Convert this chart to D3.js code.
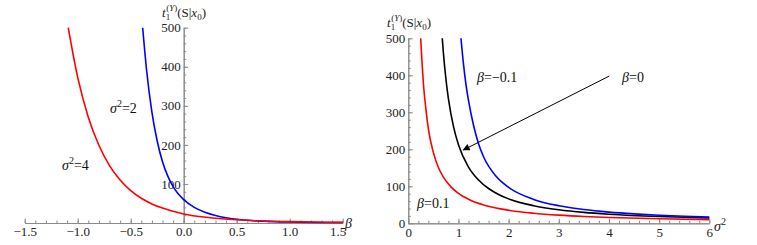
<!DOCTYPE html>
<html><head><meta charset="utf-8">
<script src="https://cdn.jsdelivr.net/npm/d3@7"></script>
<style>
body{margin:0;background:#fff;}
svg{display:block;}
svg text{font-family:"Liberation Serif","Times New Roman","DejaVu Serif",serif;}
.axis path,.axis line{stroke:#8a8a8a;stroke-width:1;}
.axis text{fill:#222;font-size:13px;}
</style></head>
<body><svg id="c" width="757" height="245"></svg>
<script>
// ---- Left panel: t1 vs beta ----
const leftBetaS2 = [-0.387,-0.35,-0.3,-0.25,-0.2,-0.15,-0.1,-0.05,0,0.1,0.2,0.3,0.4,0.5,0.75,1.0,1.5];
const leftValS2  = [500,391,284,210,157,120,93,74,60,40,27.4,19,13.3,9.6,4.7,2.6,1.2];
const leftBetaS4 = [-1.089,-1.0,-0.9,-0.8,-0.7,-0.6,-0.5,-0.4,-0.3,-0.2,-0.1,0,0.25,0.5,0.75,1.0,1.25,1.5];
const leftValS4  = [500,373,271,199,147,110,83,63.4,48.9,38.1,30,23,13.6,8.2,5.2,3.5,2.4,1.7];
const leftXTicks = [-1.5,-1.0,-0.5,0.0,0.5,1.0,1.5];
const leftYTicks = [100,200,300,400,500];

// ---- Right panel: t1 vs sigma^2 ----
const rightS2B01  = [0.247,0.3,0.35,0.4,0.5,0.6,0.7,0.85,1.0,1.25,1.5,2.0,2.5,3.0,3.5,4.0,5.0,6.0];
const rightValB01 = [500,380,310,255,191,151,125,98.5,80.8,61.8,49.7,35.3,27.2,22,18.3,15.7,12.1,9.8];
const rightS2B0   = [0.677,0.7,0.75,0.8,0.9,1.0,1.2,1.4,1.6,1.8,2.0,2.5,3.0,3.5,4.0,5.0,6.0];
const rightValB0  = [500,460,390,336,262,212,152,117,94,78,66,47.6,36.7,29.5,24.6,18.2,14.3];
const rightS2Bm01 = [1.05,1.1,1.15,1.2,1.3,1.4,1.5,1.75,2.0,2.5,3.0,3.5,4.0,4.5,5.0,5.5,6.0];
const rightValBm01= [500,430,375,332,265,215,180,127,97,64.6,47.5,37.2,30.3,25.4,21.7,18.9,16.7];
const rightXTicks = [0,1,2,3,4,5,6];
const rightYTicks = [0,100,200,300,400,500];

const FONT = '"Liberation Serif","Times New Roman","DejaVu Serif",serif';
const svg = d3.select("#c");
const zip = (a,b)=>a.map((v,i)=>[v,b[i]]);
const fmt1 = d => (d<0?"\u2212":"") + Math.abs(d).toFixed(1);

function styleAxis(g){
  g.attr("font-family",FONT).attr("font-size",13);
  g.selectAll("text").attr("font-family",FONT).attr("fill","#222");
}

function panel(xs, ys, xTicks, xMinorStep, yTicks, yMinorStep, xfmt, series){
  const [x0,x1] = xs.domain();
  const minorX = d3.range(Math.round(x0/xMinorStep), Math.round(x1/xMinorStep)+1).map(i=>+(i*xMinorStep).toFixed(6));
  const minorY = d3.range(0, Math.round(500/yMinorStep)+1).map(i=>i*yMinorStep);
  const ax0 = ys(0), ay0 = xs(0);
  svg.append("g").attr("class","axis").attr("transform",`translate(0,${ax0})`)
    .call(d3.axisBottom(xs).tickValues(minorX).tickSizeInner(-2.5).tickSizeOuter(0).tickFormat(""));
  const gx = svg.append("g").attr("class","axis").attr("transform",`translate(0,${ax0})`)
    .call(d3.axisBottom(xs).tickValues(xTicks).tickSizeInner(-4.5).tickSizeOuter(0).tickPadding(4).tickFormat(xfmt));
  styleAxis(gx);
  svg.append("g").attr("class","axis").attr("transform",`translate(${ay0},0)`)
    .call(d3.axisLeft(ys).tickValues(minorY).tickSizeInner(-2.5).tickSizeOuter(0).tickFormat(""));
  const gy = svg.append("g").attr("class","axis").attr("transform",`translate(${ay0},0)`)
    .call(d3.axisLeft(ys).tickValues(yTicks).tickSizeInner(-4.5).tickSizeOuter(0).tickPadding(3).tickFormat(d3.format("d")));
  styleAxis(gy);
  const line = d3.line().x(d=>xs(d[0])).y(d=>ys(d[1])).curve(d3.curveMonotoneX);
  series.forEach(s=>{
    svg.append("path").datum(s.pts).attr("d",line).attr("fill","none")
      .attr("stroke",s.color).attr("stroke-width",1.6);
  });
  return gx;
}

const xL = d3.scaleLinear([-1.5,1.5],[24.7,342.7]);
const yL = d3.scaleLinear([0,500],[223,27.7]);
const gxL = panel(xL,yL,leftXTicks,0.1,leftYTicks,20,fmt1,[
  {pts:zip(leftBetaS2,leftValS2),color:"#0000ff"},
  {pts:zip(leftBetaS4,leftValS4),color:"#ff0000"}
]);
gxL.selectAll(".tick text").filter(d=>d===1.5).attr("dx",-5);

const xR = d3.scaleLinear([0,6],[408.3,709.3]);
const yR = d3.scaleLinear([0,500],[223.3,38.3]);
panel(xR,yR,rightXTicks,0.2,rightYTicks,20,d3.format("d"),[
  {pts:zip(rightS2B01,rightValB01),color:"#ff0000"},
  {pts:zip(rightS2B0,rightValB0),color:"#000000"},
  {pts:zip(rightS2Bm01,rightValBm01),color:"#0000ff"}
]);

// axis titles
function yTitle(cx, baseline){
  const t = svg.append("text").attr("x",cx).attr("y",baseline).attr("text-anchor","middle")
    .attr("font-size",13).attr("fill","#222").attr("font-family",FONT);
  t.append("tspan").attr("font-style","italic").text("t");
  t.append("tspan").attr("font-size",9).attr("dy",2.5).text("1");
  t.append("tspan").attr("font-size",9).attr("dy",-8.5).attr("dx",-4).text("(");
  t.append("tspan").attr("font-size",9).attr("font-style","italic").text("Y");
  t.append("tspan").attr("font-size",9).text(")");
  t.append("tspan").attr("dy",6).text("(S|");
  t.append("tspan").attr("font-style","italic").text("x");
  t.append("tspan").attr("font-size",9).attr("dy",2.5).text("0");
  t.append("tspan").attr("dy",-2.5).text(")");
}
yTitle(184,17);
yTitle(409,27);

svg.append("text").attr("x",345).attr("y",228).attr("font-size",14).attr("font-style","italic")
  .attr("font-family",FONT).attr("fill","#222").text("\u03B2");
const s2 = svg.append("text").attr("x",714).attr("y",231).attr("font-size",14).attr("fill","#222").attr("font-family",FONT);
s2.append("tspan").attr("font-style","italic").text("\u03C3");
s2.append("tspan").attr("font-size",10).attr("dy",-6).text("2");

// annotations
function sigLabel(x,y,val){
  const t = svg.append("text").attr("x",x).attr("y",y).attr("font-size",14).attr("fill","#111").attr("font-family",FONT);
  t.append("tspan").attr("font-style","italic").text("\u03C3");
  t.append("tspan").attr("font-size",10).attr("dy",-6).text("2");
  t.append("tspan").attr("dy",6).text("="+val);
}
sigLabel(110,113,"2");
sigLabel(62,170,"4");
function betaLabel(x,y,val){
  const t = svg.append("text").attr("x",x).attr("y",y).attr("font-size",14).attr("fill","#111").attr("font-family",FONT);
  t.append("tspan").attr("font-style","italic").text("\u03B2");
  t.append("tspan").text("="+val);
}
betaLabel(477,82,"\u22120.1");
betaLabel(622,82,"0");
betaLabel(417,208,"0.1");

// arrow
svg.append("defs").append("marker").attr("id","ah").attr("viewBox","0 0 10 10")
  .attr("refX",9).attr("refY",5).attr("markerWidth",9).attr("markerHeight",7)
  .attr("markerUnits","userSpaceOnUse").attr("orient","auto")
  .append("path").attr("d","M0,0L10,5L0,10z").attr("fill","#000");
svg.append("line").attr("x1",609.3).attr("y1",76).attr("x2",463.3).attr("y2",150)
  .attr("stroke","#000").attr("stroke-width",1).attr("marker-end","url(#ah)");
</script></body></html>
